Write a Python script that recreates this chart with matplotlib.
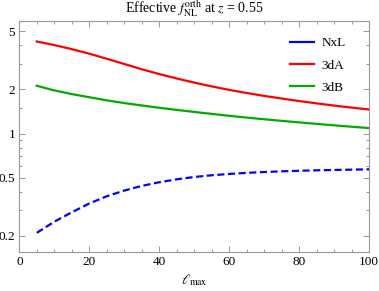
import matplotlib
matplotlib.use("Agg")
import matplotlib.pyplot as plt
from matplotlib.lines import Line2D
from matplotlib.ticker import FixedLocator, NullFormatter

ell = [5, 10, 15, 20, 25, 30, 35, 40, 45, 50, 55, 60, 65, 70, 75, 80, 85, 90, 95, 100]
nxl = [0.21, 0.25, 0.29, 0.333, 0.373, 0.408, 0.439, 0.465, 0.487, 0.505, 0.519, 0.53,
       0.539, 0.546, 0.552, 0.557, 0.561, 0.564, 0.567, 0.57]
d3a = [4.25, 4.02, 3.77, 3.51, 3.24, 2.985, 2.748, 2.547, 2.377, 2.228, 2.099, 1.986,
       1.892, 1.807, 1.734, 1.667, 1.607, 1.552, 1.503, 1.459]
d3b = [2.12, 1.97, 1.86, 1.77, 1.685, 1.615, 1.555, 1.5, 1.45, 1.405, 1.362, 1.322,
       1.285, 1.252, 1.221, 1.192, 1.164, 1.138, 1.113, 1.09]
labels = ["NxL", "3dA", "3dB"]
yticks = [0.2, 0.5, 1, 2, 5]
ytick_labels = ["0.2", "0.5", "1", "2", "5"]
yminor = [0.3, 0.4, 0.6, 0.7, 0.8, 0.9, 1.5, 3, 4]

plt.rcParams['font.family'] = ['Liberation Serif']
plt.rcParams['mathtext.fontset'] = 'stix'

fig = plt.figure(figsize=(3.79, 2.91), dpi=100)
ax = fig.add_axes([0.051, 0.135, 0.923, 0.794])

blue, red, green = "#0000ff", "#ff0000", "#00aa00"
ax.plot(ell, nxl, color=blue, lw=1.6, dashes=(3.2, 1.6))
ax.plot(ell, d3a, color=red, lw=1.6)
ax.plot(ell, d3b, color=green, lw=1.6)

ax.set_yscale('log')
ax.set_xlim(0, 100)
ax.set_ylim(0.156, 5.9)
ax.set_xticks([0, 20, 40, 60, 80, 100])
ax.set_xticks(range(0, 101, 5), minor=True)
ax.yaxis.set_major_locator(FixedLocator(yticks))
ax.set_yticklabels(ytick_labels)
ax.yaxis.set_minor_locator(FixedLocator(yminor))
ax.yaxis.set_minor_formatter(NullFormatter())

gray = "#999999"
for s in ax.spines.values():
    s.set_color(gray)
    s.set_linewidth(0.8)
ax.tick_params(which='both', direction='in', top=True, right=True, color=gray,
               labelsize=9.5, labelcolor='black', width=0.7)
ax.tick_params(which='major', length=4.5, pad=3)
ax.tick_params(which='minor', length=2.5)

handles = [Line2D([], [], color=c, lw=1.6) for c in (blue, red, green)]
ax.legend(handles, labels, loc='upper right', bbox_to_anchor=(0.967, 0.98), frameon=False,
          fontsize=9.5, handlelength=1.8, handletextpad=0.6, labelspacing=0.75)

ax.set_title(r"Effective $f_{\rm NL}^{\rm orth}$ at $z$ = 0.55", fontsize=10, pad=5)
ax.set_xlabel(r"$\ell_{\rm max}$", fontsize=10, labelpad=3)

fig.savefig("out.png", dpi=100)
